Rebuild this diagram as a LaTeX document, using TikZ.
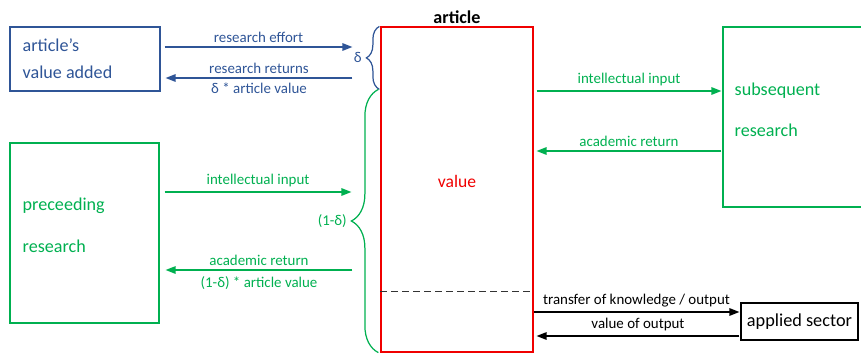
\documentclass[tikz,border=0pt]{standalone}
\usepackage{fontspec}
\setmainfont{Carlito}
\usetikzlibrary{arrows.meta,calc,decorations.pathreplacing}
\definecolor{artblue}{RGB}{47,85,151}
\definecolor{artgreen}{RGB}{0,176,80}
\definecolor{artred}{RGB}{240,0,0}
\begin{document}
\begin{tikzpicture}[
  box/.style={draw, line width=0.7pt, inner sep=0pt},
  txt/.style={font=\fontsize{10.3}{15.4}\selectfont, align=left, anchor=west, inner sep=0pt},
  lab/.style={font=\fontsize{8.5}{10}\selectfont, inner sep=0.08cm},
  flow/.style={line width=0.8pt, -{Triangle[length=0.2cm,width=0.15cm]}},
  brc/.style={decorate, line width=0.7pt}
]
\useasboundingbox (0,0) rectangle (17.22,-7.06);
\node[box, draw=artblue, minimum width=3.0cm, minimum height=1.28cm] (avbox) at (1.7,-1.18) {};
\node[box, draw=artgreen, minimum width=2.98cm, minimum height=3.6cm] (prec) at (1.69,-4.66) {};
\node[box, draw=artgreen, minimum width=2.84cm, minimum height=3.6cm] (subs) at (15.88,-2.34) {};
\node[box, draw=artred, minimum width=3.04cm, minimum height=6.5cm] (art) at (9.14,-3.79) {};
\node[box, draw=black, minimum width=2.34cm, minimum height=0.74cm, font=\fontsize{10.4}{12}\selectfont] (appl) at (15.99,-6.43) {applied sector};
\node[txt, text=artblue] (avtxt) at ($(avbox.west)+(0.26,0.01)$) {article's\\value added};
\node[txt, text=artgreen, font=\fontsize{10.3}{23.9}\selectfont] (prectxt) at ($(prec.west)+(0.26,0.16)$) {preceeding\\research};
\node[txt, text=artgreen, font=\fontsize{10.3}{23.4}\selectfont] (substxt) at ($(subs.west)+(0.24,0.15)$) {subsequent\\research};
\node[font=\fontsize{10.3}{12}\selectfont\bfseries, anchor=south, inner sep=0.05cm] (ttl) at (art.north) {article};
\node[font=\fontsize{10}{12}\selectfont, text=artred] (val) at ($(art.center)+(0,0.17)$) {value};
\draw[black!80, line width=0.9pt, dash pattern=on 0.13cm off 0.09cm] ($(art.south west)+(0,1.22)$) -- ($(art.south east)+(0,1.22)$);
\draw[brc, artblue, decoration={brace, amplitude=0.26cm}] ($(art.north west)+(-0.02,-1.26)$) -- ($(art.north west)+(-0.02,0)$) node[lab, midway, left, xshift=-0.26cm] (dlab) {δ};
\draw[brc, artgreen, decoration={brace, amplitude=0.54cm}] ($(art.south west)+(-0.04,0)$) -- ($(art.north west)+(-0.04,-1.26)$) node[lab, midway, left, xshift=-0.54cm] (odlab) {(1-δ)};
\draw[flow, artblue] ($(avbox.east)+(0.08,0.24)$) -- ($(avbox.east -| art.west)+(-0.56,0.24)$) node[lab, midway, above] {research effort};
\draw[flow, artblue] ($(avbox.east -| art.west)+(-0.56,-0.38)$) -- ($(avbox.east)+(0.1,-0.38)$) node[lab, midway, above] {research returns} node[lab, midway, below] {δ * article value};
\draw[flow, artgreen] ($(prec.east)+(0.1,0.82)$) -- ($(prec.east -| art.west)+(-0.58,0.82)$) node[lab, midway, above] {intellectual input};
\draw[flow, artgreen] ($(prec.east -| art.west)+(-0.56,-0.74)$) -- ($(prec.east)+(0.12,-0.74)$) node[lab, midway, above] {academic return} node[lab, midway, below, yshift=-0.04cm] {(1-δ) * article value};
\draw[flow, artgreen] ($(subs.west -| art.east)+(0.06,0.52)$) -- ($(subs.west)+(-0.02,0.52)$) node[lab, midway, above] {intellectual input};
\draw[flow, artgreen] ($(subs.west)+(-0.02,-0.68)$) -- ($(subs.west -| art.east)+(0.06,-0.68)$) node[lab, midway, above] {academic return};
\draw[flow] ($(appl.west -| art.east)+(0,0.19)$) -- ($(appl.west)+(-0.02,0.19)$) node[lab, midway, above] {transfer of knowledge / output};
\draw[flow] ($(appl.west)+(-0.02,-0.29)$) -- ($(appl.west -| art.east)+(0.06,-0.29)$) node[lab, midway, above] {value of output};
\end{tikzpicture}
\end{document}
